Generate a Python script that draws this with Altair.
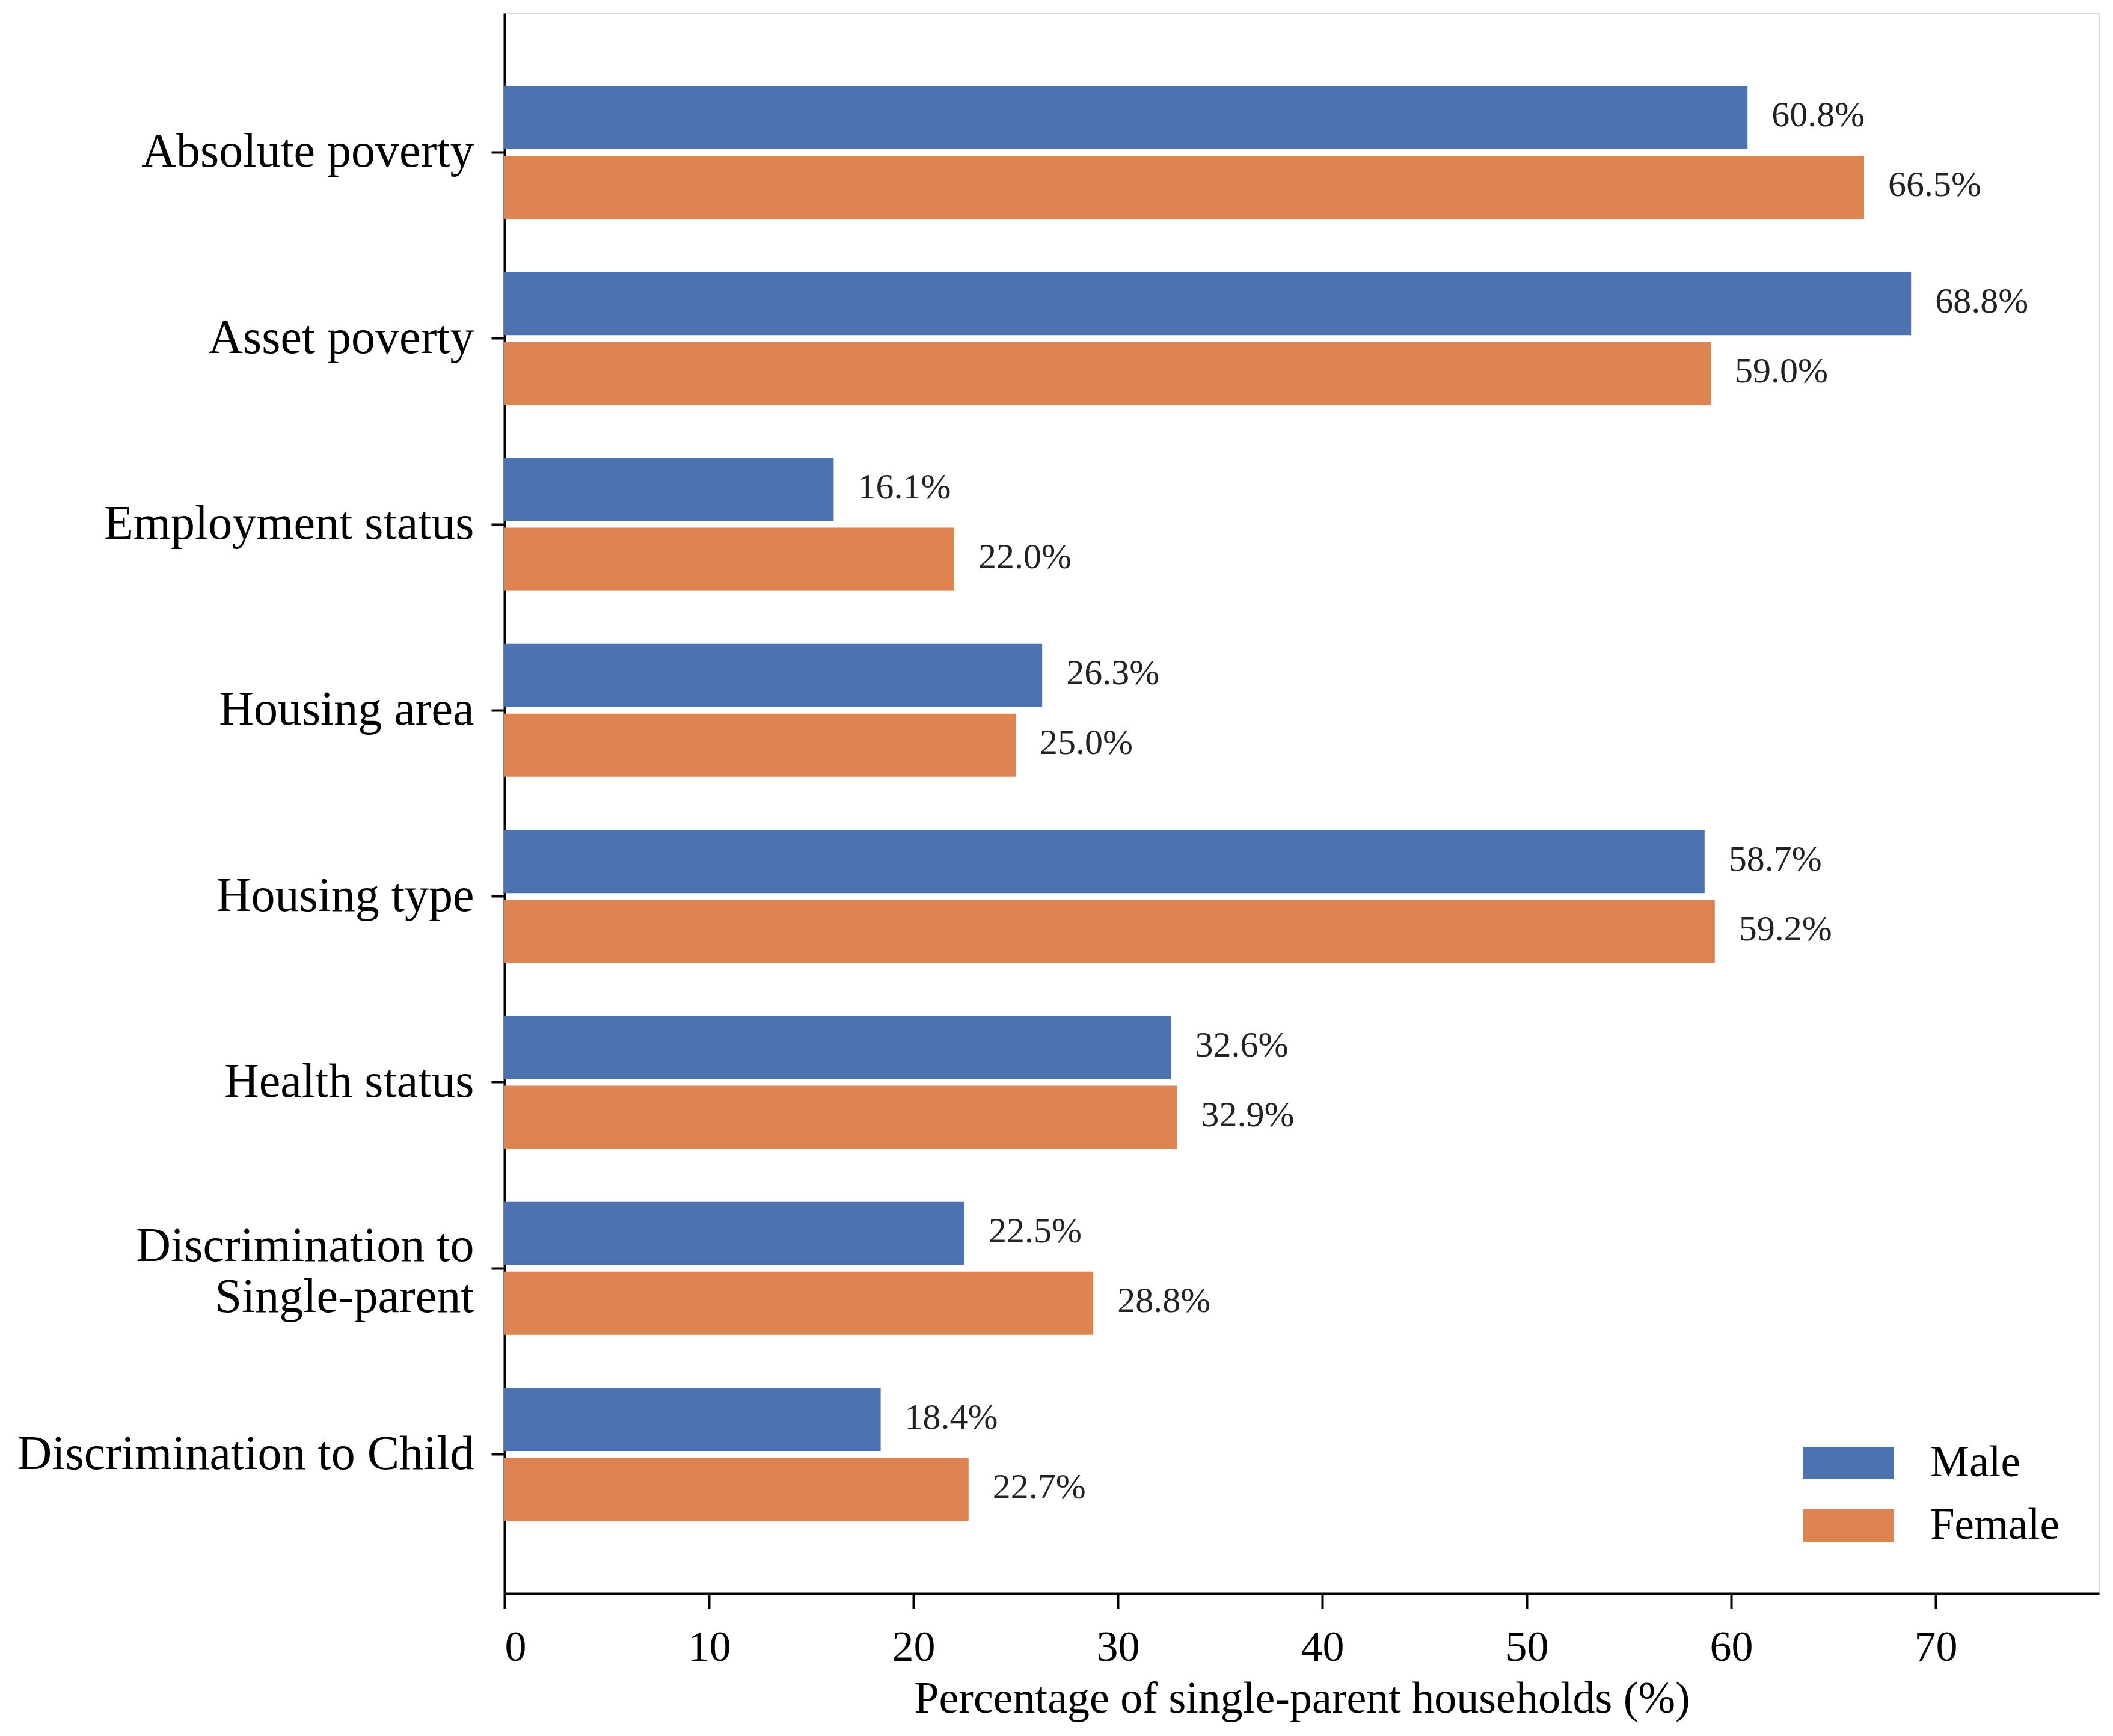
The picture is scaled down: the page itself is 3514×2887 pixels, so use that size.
import altair as alt
import pandas as pd

categories = [
    "Absolute poverty",
    "Asset poverty",
    "Employment status",
    "Housing area",
    "Housing type",
    "Health status",
    "Discrimination to\nSingle-parent",
    "Discrimination to Child",
]
male = [60.8, 68.8, 16.1, 26.3, 58.7, 32.6, 22.5, 18.4]
female = [66.5, 59.0, 22.0, 25.0, 59.2, 32.9, 28.8, 22.7]
groups = ["Male", "Female"]
colors = ["#4C72B0", "#DD8452"]
x_ticks = [0, 10, 20, 30, 40, 50, 60, 70]

rows = []
for c, m, f in zip(categories, male, female):
    rows.append({"category": c, "sex": "Male", "value": m, "label": f"{m:.1f}%"})
    rows.append({"category": c, "sex": "Female", "value": f, "label": f"{f:.1f}%"})
df = pd.DataFrame(rows)

FONT = "Liberation Serif"

y_enc = alt.Y(
    "category:N",
    sort=categories,
    scale=alt.Scale(paddingInner=0.2855, paddingOuter=0.391),
    axis=alt.Axis(
        title=None,
        labelExpr="split(datum.label, '\\n')",
        labelFontSize=80,
        labelFont=FONT,
        labelColor="black",
        labelLineHeight=85,
        labelPadding=29,
        labelLimit=0,
        labelOffset={
            "condition": {"test": "indexof(datum.value, '\\n') >= 0", "value": -36},
            "value": 0,
        },
        tickSize=22,
        tickWidth=4,
        tickColor="black",
        domainColor="black",
        domainWidth=4,
        grid=False,
    ),
)
yoff_enc = alt.YOffset(
    "sex:N",
    sort=groups,
    scale=alt.Scale(domain=groups, paddingInner=0.095),
)
x_enc = alt.X(
    "value:Q",
    scale=alt.Scale(domain=[0, 78], nice=False),
    axis=alt.Axis(
        values=x_ticks,
        title="Percentage of single-parent households (%)",
        titleFont=FONT,
        titleFontSize=74,
        titleFontWeight="normal",
        titleColor="black",
        titlePadding=14,
        labelFont=FONT,
        labelFontSize=72,
        labelColor="black",
        labelPadding=29,
        tickSize=25,
        tickWidth=4,
        tickColor="black",
        domainColor="black",
        domainWidth=4,
        grid=False,
    ),
)

bars = alt.Chart(df).mark_bar().encode(
    y=y_enc,
    yOffset=yoff_enc,
    x=x_enc,
    color=alt.Color(
        "sex:N",
        sort=groups,
        scale=alt.Scale(domain=groups, range=colors),
        legend=alt.Legend(
            title=None,
            orient="none",
            legendX=2181,
            legendY=2357,
            symbolType="M-1.4,-0.5H1.4V0.5H-1.4Z",
            symbolSize=11642,
            symbolStrokeWidth=0,
            symbolOpacity=1,
            labelFont=FONT,
            labelFontSize=73,
            labelColor="black",
            labelOffset=82,
            labelLimit=0,
            rowPadding=13,
            padding=0,
        ),
    ),
)

texts = alt.Chart(df).mark_text(
    align="left", baseline="middle", dx=40, dy=-3, font=FONT, fontSize=60, color="#222222"
).encode(
    y=alt.Y("category:N", sort=categories),
    yOffset=alt.YOffset("sex:N", sort=groups),
    x=alt.X("value:Q"),
    text="label:N",
)

chart = (
    alt.layer(bars, texts)
    .properties(
        width=2652,
        height=2628,
        autosize=alt.AutoSizeParams(type="none"),
        padding={"left": 831, "top": 14, "right": 15, "bottom": 220},
    )
    .configure_view(stroke=None)
    .configure(background="white")
)

chart.save("out.html", embed_options={"renderer": "svg", "actions": False})
